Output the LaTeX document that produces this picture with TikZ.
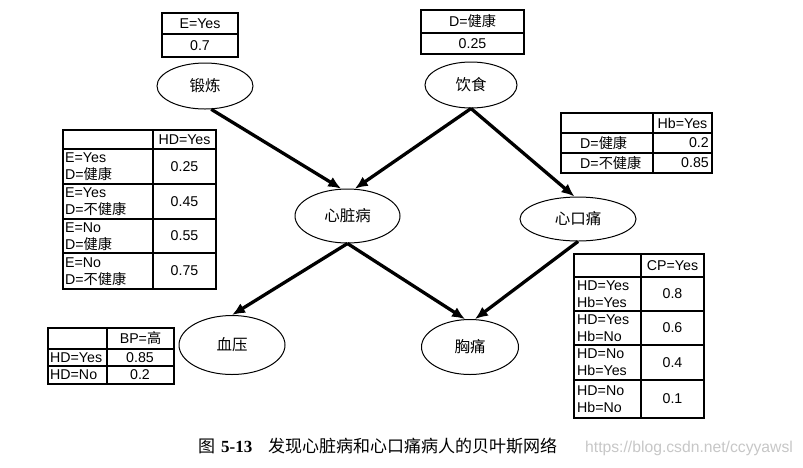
\documentclass[tikz,border=0pt]{standalone}
\usepackage{fontspec}
\setmainfont{Liberation Sans}
\newfontfamily\cjk{Noto Sans CJK SC}
\newfontfamily\serifnum{Liberation Serif}
\usetikzlibrary{shapes.geometric,arrows.meta}
\newcommand{\zh}[1]{{\cjk #1}}
\begin{document}
\begin{tikzpicture}[x=1pt,y=-1pt,
  tbl/.style={line width=1.1pt},
  cell/.style={inner sep=0pt,font=\fontsize{14.2}{17}\selectfont},
  lcell/.style={cell,anchor=west,align=left},
  rv/.style={ellipse,draw,line width=1pt,inner sep=0pt,font=\fontsize{15.5}{17}\cjk},
  arr/.style={line width=3.3pt,-{Latex[length=13pt,width=11pt]}}]
\useasboundingbox (0,0) rectangle (803,467);
\fill[white] (0,0) rectangle (803,467);

% --- prior tables
\draw[tbl] (162,13) rectangle (238,57) (162,34) -- (238,34);
\node[cell] (tE1) at (200,23.5) {E=Yes};
\node[cell] (tE2) at (200,45.5) {0.7};

\draw[tbl] (421,10) rectangle (524,54) (421,33) -- (524,33);
\node[cell] (tD1) at (472.5,21.5) {D=\zh{健康}};
\node[cell] (tD2) at (472.5,43.5) {0.25};

% --- HD table
\draw[tbl] (63,130) rectangle (216,289) (153,130) -- (153,289);
\foreach \yy in {149,184,219,253} \draw[tbl] (63,\yy) -- (216,\yy);
\node[cell] (hdh) at (184.5,139.5) {HD=Yes};
\node[lcell] (hdl1) at (65,167) {E=Yes\\D=\zh{健康}};
\node[lcell] (hdl2) at (65,202) {E=Yes\\D=\zh{不健康}};
\node[lcell] (hdl3) at (65,236.5) {E=No\\D=\zh{健康}};
\node[lcell] (hdl4) at (65,271.5) {E=No\\D=\zh{不健康}};
\node[cell] (hdv1) at (184.5,166.5) {0.25};
\node[cell] (hdv2) at (184.5,201.5) {0.45};
\node[cell] (hdv3) at (184.5,236) {0.55};
\node[cell] (hdv4) at (184.5,271) {0.75};

% --- Hb table
\draw[tbl] (561,113) rectangle (712,173) (653,113) -- (653,173);
\foreach \yy in {133,153} \draw[tbl] (561,\yy) -- (712,\yy);
\node[cell] (hbh) at (682.5,123) {Hb=Yes};
\node[lcell] (hbl1) at (580,143) {D=\zh{健康}};
\node[lcell] (hbl2) at (580,163) {D=\zh{不健康}};
\node[cell,anchor=east] (hbv1) at (709,143) {0.2};
\node[cell,anchor=east] (hbv2) at (709,163) {0.85};

% --- BP table
\draw[tbl] (48,328) rectangle (174,384) (107,328) -- (107,384);
\foreach \yy in {349,366} \draw[tbl] (48,\yy) -- (174,\yy);
\node[cell] (bph) at (140.5,338.5) {BP=\zh{高}};
\node[lcell] (bpl1) at (50,357.5) {HD=Yes};
\node[lcell] (bpl2) at (50,375) {HD=No};
\node[cell] (bpv1) at (140,357.5) {0.85};
\node[cell] (bpv2) at (140,375) {0.2};

% --- CP table
\draw[tbl] (574,254) rectangle (704,418) (641,254) -- (641,418);
\foreach \yy in {277,311,345,380} \draw[tbl] (574,\yy) -- (704,\yy);
\node[cell] (cph) at (672.5,265.5) {CP=Yes};
\node[lcell] (cpl1) at (577,294) {HD=Yes\\Hb=Yes};
\node[lcell] (cpl2) at (577,328) {HD=Yes\\Hb=No};
\node[lcell] (cpl3) at (577,362.5) {HD=No\\Hb=Yes};
\node[lcell] (cpl4) at (577,399) {HD=No\\Hb=No};
\node[cell] (cpv1) at (672.5,294) {0.8};
\node[cell] (cpv2) at (672.5,328) {0.6};
\node[cell] (cpv3) at (672.5,362.5) {0.4};
\node[cell] (cpv4) at (672.5,399) {0.1};

% --- variables
\node[rv,minimum width=96pt,minimum height=46pt] (dl) at (205,86) {锻炼};
\node[rv,minimum width=92pt,minimum height=46pt] (yd) at (471,85) {饮食};
\node[rv,minimum width=105pt,minimum height=54pt] (hd) at (347.5,216) {心脏病};
\node[rv,minimum width=116pt,minimum height=44pt] (xk) at (578,219) {心口痛};
\node[rv,minimum width=106pt,minimum height=59pt] (xy) at (232,345) {血压};
\node[rv,minimum width=97pt,minimum height=55pt] (xt) at (470,347) {胸痛};

% --- arcs
\draw[arr] (dl.-75) -- (hd.103);
\draw[arr] (yd.south) -- (hd.75);
\draw[arr] (yd.south) -- (xk.99);
\draw[arr] (hd.south) -- (xy.north);
\draw[arr] (hd.south) -- (xt.100);
\draw[arr] (xk.south) -- (xt.80);

% --- caption
\node[inner sep=0pt,anchor=west,font=\fontsize{17}{19}\selectfont] (capA) at (198,446) {\zh{图}\hspace{6pt}{\serifnum\bfseries 5-13}};
\node[inner sep=0pt,anchor=west,font=\fontsize{17}{19}\cjk] (capB) at (268,446) {发现心脏病和心口痛病人的贝叶斯网络};
\node[inner sep=0pt,anchor=west,text=black!22,font=\fontsize{15.7}{18}\selectfont] (wm) at (585,448) {https://blog.csdn.net/ccyyawsl};
\end{tikzpicture}
\end{document}
